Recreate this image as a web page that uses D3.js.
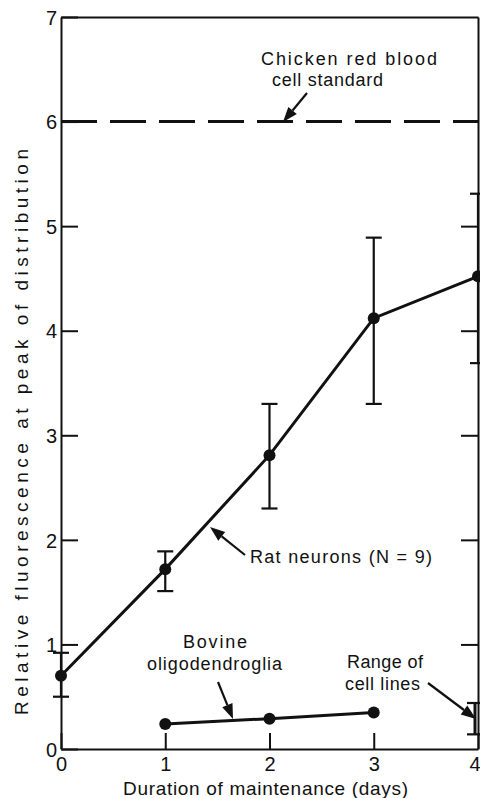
<!DOCTYPE html>
<html>
<head>
<meta charset="utf-8">
<script src="https://cdn.jsdelivr.net/npm/d3@7"></script>
<style>
  body { margin: 0; background: #fff; }
  svg { display: block; }
  text { font-family: "Liberation Sans", Arial, sans-serif; fill: #111; }
  .axis path, .axis line { stroke: #111; stroke-width: 2; }
  .axis text { font-size: 20px; }
</style>
</head>
<body>
<svg width="480" height="798"></svg>
<script>
// waarden
var days = [0, 1, 2, 3, 4];
var ratMean = [0.70, 1.72, 2.81, 4.12, 4.52];
var ratLow = [0.50, 1.51, 2.30, 3.30, 3.69];
var ratHigh = [0.92, 1.89, 3.30, 4.89, 5.31];
var bovineDays = [1, 2, 3];
var bovineMean = [0.24, 0.29, 0.35];
var chickenStandard = 6;
var cellLineDay = 4;
var cellLineRange = [0.14, 0.44];
var xTicks = [0, 1, 2, 3, 4];
var yTicks = [0, 1, 2, 3, 4, 5, 6, 7];

var svg = d3.select("svg");

var x = d3.scaleLinear().domain([0, 4]).range([61, 478]),
    y = d3.scaleLinear().domain([0, 7]).range([749, 17]);

// assen, ticks naar binnen
svg.append("g")
    .attr("class", "axis")
    .attr("transform", "translate(" + x(0) + ",0)")
    .call(d3.axisLeft(y).tickValues(yTicks).tickFormat(d3.format("d")).tickSizeInner(-17).tickSizeOuter(0).tickPadding(4))
    .selectAll("text").attr("dy", "0.36em");

svg.append("g")
    .attr("class", "axis")
    .attr("transform", "translate(" + x(4) + ",0)")
    .call(d3.axisRight(y).tickValues(yTicks.slice(1, 6)).tickSizeInner(-17).tickSizeOuter(0).tickFormat(""));

svg.append("g")
    .attr("class", "axis")
    .attr("transform", "translate(0," + y(7) + ")")
    .call(d3.axisTop(x).tickValues([]).tickSizeOuter(0));

var xAxis = svg.append("g")
    .attr("class", "axis")
    .attr("transform", "translate(0," + y(0) + ")")
    .call(d3.axisBottom(x).tickValues(xTicks).tickFormat(d3.format("d")).tickSizeInner(-16).tickSizeOuter(0).tickPadding(8));

// laatste label staat tegen de rand, net als in het origineel
xAxis.selectAll(".tick text")
    .filter(function(d) { return d === 4; })
    .attr("text-anchor", "end")
    .attr("x", 2);

svg.selectAll(".axis .domain").attr("stroke-width", 2.2);

// aslabels
svg.append("text")
    .attr("x", 123)
    .attr("y", 795)
    .attr("textLength", 285)
    .style("font-size", "19px")
    .text("Duration of maintenance (days)");

svg.append("text")
    .attr("transform", "translate(28,715) rotate(-90)")
    .attr("textLength", 566)
    .style("font-size", "19px")
    .text("Relative fluorescence at peak of distribution");

// kippenbloed standaard, gestreepte lijn
svg.append("line")
    .attr("x1", x(0)).attr("x2", x(4))
    .attr("y1", y(chickenStandard)).attr("y2", y(chickenStandard))
    .attr("stroke", "#111")
    .attr("stroke-width", 3)
    .attr("stroke-dasharray", "36,13");

// lijnen
var line = d3.line()
    .x(function(d) { return x(d[0]); })
    .y(function(d) { return y(d[1]); });

var rat = days.map(function(d, i) { return [d, ratMean[i]]; });
var bovine = bovineDays.map(function(d, i) { return [d, bovineMean[i]]; });

svg.append("path")
    .datum(rat)
    .attr("d", line)
    .attr("fill", "none")
    .attr("stroke", "#111")
    .attr("stroke-width", 3);

svg.append("path")
    .datum(bovine)
    .attr("d", line)
    .attr("fill", "none")
    .attr("stroke", "#111")
    .attr("stroke-width", 3);

// foutbalken
var err = svg.append("g").attr("stroke", "#111").attr("stroke-width", 2.2);
days.forEach(function(d, i) {
  var cx = x(d);
  err.append("line").attr("x1", cx).attr("x2", cx).attr("y1", y(ratLow[i])).attr("y2", y(ratHigh[i]));
  err.append("line").attr("x1", cx - 8).attr("x2", cx + 8).attr("y1", y(ratLow[i])).attr("y2", y(ratLow[i]));
  err.append("line").attr("x1", cx - 8).attr("x2", cx + 8).attr("y1", y(ratHigh[i])).attr("y2", y(ratHigh[i]));
});

// bereik cellijnen
var cl = x(cellLineDay) - 3;
err.append("line").attr("x1", cl).attr("x2", cl).attr("y1", y(cellLineRange[0])).attr("y2", y(cellLineRange[1])).attr("stroke-width", 3);
err.append("line").attr("x1", cl - 8).attr("x2", cl + 8).attr("y1", y(cellLineRange[0])).attr("y2", y(cellLineRange[0]));
err.append("line").attr("x1", cl - 8).attr("x2", cl + 8).attr("y1", y(cellLineRange[1])).attr("y2", y(cellLineRange[1]));

// punten
svg.selectAll(".rat")
    .data(rat)
    .enter().append("circle")
    .attr("class", "rat")
    .attr("cx", function(d) { return x(d[0]); })
    .attr("cy", function(d) { return y(d[1]); })
    .attr("r", 6)
    .attr("fill", "#111");

svg.selectAll(".bovine")
    .data(bovine)
    .enter().append("circle")
    .attr("class", "bovine")
    .attr("cx", function(d) { return x(d[0]); })
    .attr("cy", function(d) { return y(d[1]); })
    .attr("r", 6)
    .attr("fill", "#111");

// annotaties met pijlen
function arrow(x1, y1, x2, y2) {
  var a = Math.atan2(y2 - y1, x2 - x1), len = 15, w = 5.5;
  var bx = x2 - len * Math.cos(a), by = y2 - len * Math.sin(a);
  svg.append("line")
      .attr("x1", x1).attr("y1", y1).attr("x2", bx).attr("y2", by)
      .attr("stroke", "#111").attr("stroke-width", 2.2);
  svg.append("path")
      .attr("d", "M" + x2 + "," + y2 +
        "L" + (bx + w * Math.sin(a)) + "," + (by - w * Math.cos(a)) +
        "L" + (bx - w * Math.sin(a)) + "," + (by + w * Math.cos(a)) + "Z")
      .attr("fill", "#111");
}

function label(tx, ty, len, s) {
  svg.append("text")
      .attr("x", tx).attr("y", ty)
      .attr("textLength", len)
      .style("font-size", "18px")
      .text(s);
}

label(261, 65, 176, "Chicken red blood");
label(272, 86, 111, "cell standard");
arrow(307, 93, 283, 122);

label(250, 563, 182, "Rat  neurons (N = 9)");
arrow(245, 555, 210, 527);

label(183, 648, 64, "Bovine");
label(147, 670, 135, "oligodendroglia");
arrow(218, 682, 233, 719);

label(347, 668, 76, "Range of");
label(345, 690, 75, "cell lines");
arrow(428, 683, 476, 719);
</script>
</body>
</html>
